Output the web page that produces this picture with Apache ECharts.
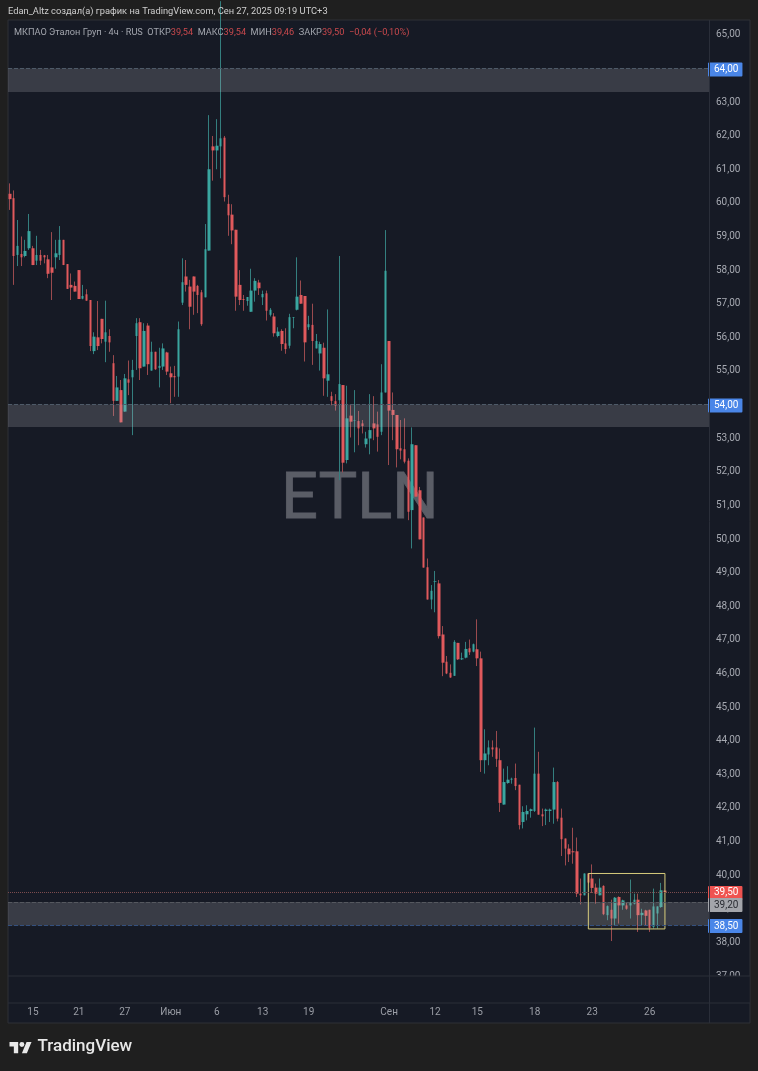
<!DOCTYPE html>
<html>
<head>
<meta charset="utf-8">
<title>ETLN</title>
<script src="https://cdn.jsdelivr.net/npm/echarts@6/dist/echarts.min.js"></script>
<style>
  html, body { margin: 0; padding: 0; background: #1f1f1f; }
  #chart { width: 758px; height: 1071px; filter: blur(0.35px); }
</style>
</head>
<body>
<div id="chart"></div>
<script>
// 4h candles
const opens = [
  60.27,60.14,58.45,58.48,58.42,58.65,58.65,58.28,58.45,58.44,
  58.32,58.08,58.38,58.45,58.90,58.18,57.56,57.53,58.00,57.15,
  57.28,57.11,55.59,56.00,56.55,55.87,56.04,55.23,54.11,54.43,
  53.79,54.75,54.81,56.04,56.45,55.13,56.35,55.01,55.57,55.09,
  55.13,55.55,54.93,54.85,54.83,57.03,57.81,57.51,57.81,57.53,
  57.34,57.19,58.58,61.68,61.56,61.68,61.94,59.97,59.65,59.20,
  57.56,57.14,57.08,56.76,57.39,57.63,57.19,57.31,56.67,56.62,
  56.04,56.19,55.82,55.75,56.58,56.82,57.26,57.23,56.30,56.37,
  55.67,55.52,55.69,54.71,54.25,54.10,54.13,54.58,52.35,53.67,
  53.52,53.51,53.44,52.82,52.99,53.44,53.41,53.19,54.36,55.89,
  53.84,53.69,52.70,52.67,52.33,50.86,52.79,51.45,50.64,49.16,
  48.20,48.73,48.68,47.16,46.35,46.02,45.93,46.91,46.42,46.47,
  46.75,46.65,46.72,46.45,43.42,43.59,43.80,43.80,43.42,42.10,
  42.74,42.84,42.89,42.69,41.58,41.81,41.91,41.91,43.02,41.81,
  41.91,41.91,41.95,42.77,41.71,41.09,40.79,40.71,40.71,39.45,
  39.40,40.05,39.90,39.63,39.40,39.68,38.81,38.97,38.71,39.35,
  39.10,39.10,39.10,39.15,39.27,38.81,38.95,38.97,38.46,38.86,
  39.05,39.54
];
const closes = [
  60.11,58.42,58.72,58.38,58.57,59.16,58.15,58.45,58.28,58.38,
  57.89,57.92,58.50,58.90,58.15,57.44,57.48,57.36,57.14,57.23,
  57.09,55.74,56.02,55.74,55.95,56.15,55.85,54.11,54.51,53.47,
  54.78,54.65,55.03,56.42,55.08,56.19,55.20,55.57,55.05,55.15,
  55.67,54.98,54.81,54.81,56.24,57.64,57.56,56.91,57.36,57.26,
  56.39,58.62,61.00,61.56,61.70,61.92,60.17,59.63,59.18,57.21,
  57.11,57.11,57.20,57.39,57.68,57.46,57.29,56.79,56.82,56.12,
  56.17,55.80,55.65,56.60,56.60,57.21,57.00,55.85,56.39,55.89,
  55.89,55.80,54.78,54.90,54.11,53.97,54.61,52.27,53.59,53.49,
  53.54,53.29,53.36,52.99,53.24,53.29,53.04,54.36,57.98,53.82,
  53.69,52.67,52.63,52.30,50.81,52.82,51.26,49.99,49.15,48.20,
  48.46,48.75,47.11,46.32,46.00,45.88,46.94,46.42,46.45,46.73,
  46.63,46.87,46.45,43.42,43.62,43.80,43.74,43.46,42.15,42.77,
  42.84,42.87,42.65,41.49,41.88,41.91,41.96,43.02,41.80,41.75,
  41.95,41.95,42.77,41.68,41.07,40.79,40.62,40.68,39.45,39.40,
  40.05,39.78,39.62,39.45,39.63,38.84,39.08,38.71,39.33,39.10,
  39.25,39.00,39.17,39.27,38.81,38.88,38.79,38.43,39.07,39.07,
  39.55,39.50
];
const lows = [
  59.79,57.56,58.12,58.12,58.38,58.60,58.15,58.15,58.15,58.20,
  57.76,57.11,58.04,58.30,58.15,57.44,57.11,57.36,57.14,57.13,
  57.09,55.59,55.50,55.62,55.82,55.26,55.57,53.66,54.11,53.47,
  53.79,54.28,53.09,55.03,54.73,55.13,54.88,55.01,55.03,54.51,
  55.03,54.88,54.04,54.23,54.23,56.96,57.36,56.24,56.67,56.72,
  56.34,57.19,58.58,60.66,61.00,60.73,60.04,59.02,58.77,56.79,
  56.96,56.79,56.94,56.76,57.06,57.26,56.96,56.50,56.62,56.02,
  56.00,55.60,55.51,55.67,56.27,56.80,57.00,55.28,56.22,55.18,
  55.67,55.01,54.26,54.23,53.98,53.82,51.75,51.98,52.25,53.02,
  52.58,52.79,53.14,52.72,52.52,52.94,52.60,53.09,54.36,52.20,
  52.94,52.13,52.37,52.25,50.56,49.72,51.26,49.99,49.15,48.20,
  47.91,47.82,47.04,45.92,45.98,45.87,45.93,46.40,46.40,46.45,
  46.55,46.63,46.22,43.07,43.02,43.27,43.52,43.22,41.88,42.10,
  42.72,42.72,42.53,41.36,41.39,41.63,41.71,41.88,41.80,41.46,
  41.49,41.58,41.53,41.60,40.57,40.29,40.39,40.34,39.35,39.13,
  39.40,39.75,39.47,39.15,39.40,38.81,38.66,38.04,38.51,38.56,
  38.97,38.97,38.71,39.13,38.31,38.51,38.51,38.31,38.41,38.41,
  39.03,39.46
];
const highs = [
  60.58,60.37,59.49,59.00,58.90,59.67,58.72,59.02,58.60,58.45,
  58.45,59.13,58.90,59.31,58.90,58.18,57.90,57.66,58.00,57.56,
  57.43,57.11,56.15,57.08,56.55,57.09,56.24,55.47,54.85,54.73,
  54.91,55.31,55.33,56.57,56.57,56.42,56.42,55.87,55.57,55.69,
  55.82,55.57,55.13,55.15,56.47,58.35,58.30,57.71,57.81,57.56,
  57.41,59.37,62.61,61.99,62.49,66.00,61.99,60.24,59.96,59.20,
  58.00,57.26,57.20,58.04,57.76,57.71,57.39,57.39,56.87,56.72,
  56.30,56.24,56.27,56.70,56.60,58.38,57.69,57.23,56.64,57.00,
  56.10,55.87,55.84,56.83,54.38,54.31,58.42,54.58,54.56,53.98,
  54.43,53.81,53.54,53.19,54.31,54.25,53.79,55.20,59.19,55.89,
  54.36,53.69,53.54,53.59,52.40,53.32,52.79,51.55,50.64,49.42,
  48.63,49.05,48.78,47.41,46.52,46.27,46.99,46.91,46.62,46.94,
  47.01,46.89,47.61,46.65,44.34,44.01,44.01,44.29,43.77,43.17,
  43.24,42.90,43.32,42.69,42.05,42.08,41.98,44.39,43.67,41.98,
  41.98,41.98,43.20,42.80,41.98,41.09,40.92,41.41,41.12,39.90,
  40.05,40.05,40.32,39.75,39.90,39.70,39.10,39.27,39.35,39.37,
  39.27,39.20,39.87,39.45,39.45,39.00,38.97,38.97,39.60,39.07,
  39.77,39.54
];

const emptySlots = 11;
const tickIndexes = [6, 18, 30, 42, 54, 66, 78, 99, 111, 122, 137, 152, 167];
const tickLabels = ['15', '21', '27', 'Июн', '6', '13', '19', 'Сен', '12', '15', '18', '23', '26'];

const zoneTops = [64, 54, 39.2];
const zoneBottoms = [63.3, 53.33, 38.5];
const yMin = 37;
const yMax = 65.44;
// yellow box: first and last candle, top and bottom price
const boxSlots = [151, 171];
const boxPrices = [40.05, 38.4];

const upColor = '#3aa6a0';
const downColor = '#e0595c';
const upWick = '#347f7f';
const downWick = '#9a4a4e';
const uiFont = 'Roboto, "Noto Sans", sans-serif';

const categories = [];
for (let i = 0; i < opens.length + emptySlots; i++) {
  const at = tickIndexes.indexOf(i);
  categories.push(at >= 0 ? tickLabels[at] : String(i));
}
const wickData = opens.map((o, i) => [o, closes[i], lows[i], highs[i]]);
const bodyData = opens.map((o, i) => [o, closes[i], Math.min(o, closes[i]), Math.max(o, closes[i])]);
const priceText = v => v.toFixed(2).replace('.', ',');

function priceLine(value, color, type, bg, textColor, dy) {
  return {
    yAxis: value,
    lineStyle: { color: color, type: type, width: 1 },
    label: {
      show: true,
      position: 'end',
      distance: 0,
      formatter: priceText(value),
      color: textColor,
      backgroundColor: bg,
      fontFamily: uiFont,
      fontSize: 10,
      padding: [2, 4, 2, 6],
      borderRadius: 1,
      offset: [-1, dy]
    }
  };
}

const chart = echarts.init(document.getElementById('chart'));
chart.setOption({
  animation: false,
  backgroundColor: '#1f1f1f',
  textStyle: { fontFamily: uiFont },
  grid: { left: 8, right: 49, top: 20, bottom: 95, containLabel: false },
  xAxis: {
    type: 'category',
    data: categories,
    axisLine: { show: false },
    axisTick: { show: false },
    splitLine: { show: false },
    axisLabel: {
      interval: i => tickIndexes.indexOf(i) >= 0,
      color: '#9b9ea6',
      fontSize: 10,
      margin: 31,
      hideOverlap: false
    }
  },
  yAxis: {
    type: 'value',
    position: 'right',
    min: yMin,
    max: yMax,
    interval: 1,
    axisLine: { show: false },
    axisTick: { show: false },
    splitLine: { show: false },
    axisLabel: {
      color: '#a6a9b1',
      fontSize: 10,
      margin: 7,
      showMinLabel: true,
      hideOverlap: false,
      formatter: v => Number.isInteger(v) ? priceText(v) : ''
    }
  },
  title: [
    {
      left: 8, top: 7, padding: 0,
      text: 'Edan_Altz создал(а) график на TradingView.com, Сен 27, 2025 09:19 UTC+3',
      textStyle: { color: '#cfcfcf', fontSize: 9.3, fontWeight: 'normal', fontFamily: uiFont }
    },
    {
      left: 14, top: 28, padding: 0, z: 20,
      text: '{g|МКПАО Эталон Груп · 4ч · RUS  ОТКР}{r|39,54}{g|  МАКС}{r|39,54}{g|  МИН}{r|39,46}{g|  ЗАКР}{r|39,50}{r|  −0,04 (−0,10%)}',
      textStyle: {
        fontSize: 9.2, fontWeight: 'normal', fontFamily: uiFont,
        rich: {
          g: { color: '#a3a6ae', fontSize: 9.2, fontFamily: uiFont },
          r: { color: '#c9494d', fontSize: 9.2, fontFamily: uiFont }
        }
      }
    }
  ],
  graphic: [
    { type: 'rect', z: -5, shape: { x: 8, y: 20, width: 742, height: 1003 }, style: { fill: '#161a25', stroke: '#2e3036', lineWidth: 1 } },
    { type: 'text', z: -4, x: 281, y: 469, style: { text: 'ETLN', fill: '#5a5d66', stroke: '#5a5d66', lineWidth: 0.8, font: '400 65px Roboto, sans-serif' } },
    // covers the lower half of the last price label, the pane clips it
    { type: 'rect', z: 50, shape: { x: 710, y: 976, width: 39.5, height: 27 }, style: { fill: '#161a25' } },
    { type: 'line', z: 51, shape: { x1: 8, y1: 976, x2: 750, y2: 976 }, style: { stroke: '#2a2e39', lineWidth: 1 } },
    { type: 'line', z: 51, shape: { x1: 8, y1: 1003, x2: 750, y2: 1003 }, style: { stroke: '#2a2e39', lineWidth: 1 } },
    { type: 'line', z: 51, shape: { x1: 709.5, y1: 20, x2: 709.5, y2: 1023 }, style: { stroke: '#2a2e39', lineWidth: 1 } },
    {
      type: 'group', x: 9.5, y: 1039.6, scaleX: 0.62, scaleY: 0.62,
      children: [
        { type: 'polygon', shape: { points: [[0, 4], [14, 4], [14, 22], [7, 22], [7, 11], [0, 11]] }, style: { fill: '#e8e8e8' } },
        { type: 'polygon', shape: { points: [[20, 22], [27.5, 4], [35.5, 4], [28, 22]] }, style: { fill: '#e8e8e8' } },
        { type: 'circle', shape: { cx: 20, cy: 8, r: 4 }, style: { fill: '#e8e8e8' } }
      ]
    },
    { type: 'text', z: 51, x: 37.5, y: 1038.5, style: { text: 'TradingView', fill: '#e8e8e8', font: '500 17px Roboto, sans-serif' } }
  ],
  series: [
    {
      name: 'wicks',
      type: 'candlestick',
      data: wickData,
      barWidth: 1,
      z: 2,
      itemStyle: { color: upWick, color0: downWick, borderColor: upWick, borderColor0: downWick, borderWidth: 1 }
    },
    {
      name: 'bodies',
      type: 'candlestick',
      data: bodyData,
      barWidth: 3,
      z: 3,
      itemStyle: { color: upColor, color0: downColor, borderColor: upColor, borderColor0: downColor, borderWidth: 0 }
    },
    {
      name: 'levels',
      type: 'line',
      data: [],
      symbol: 'none',
      z: 4,
      markArea: {
        silent: true,
        z: 4,
        itemStyle: { color: 'rgba(180,180,192,0.22)' },
        data: zoneTops.map((t, i) => [{ yAxis: t }, { yAxis: zoneBottoms[i] }])
      },
      markLine: {
        silent: true,
        z: 6,
        symbol: 'none',
        data: [
          priceLine(64, '#4e5a68', 'dashed', '#4a86e8', '#ffffff', 1),
          priceLine(54, '#4e5a68', 'dashed', '#4a86e8', '#ffffff', 1),
          priceLine(39.5, '#7c4c4e', 'dotted', '#ef5350', '#ffffff', 1),
          priceLine(39.2, '#55585f', 'dashed', '#a3a5ab', '#2a2c33', 3),
          priceLine(38.5, '#34507e', 'dashed', '#4a86e8', '#ffffff', 0.5)
        ]
      }
    },
    {
      name: 'box',
      type: 'line',
      data: [],
      symbol: 'none',
      z: 5,
      markArea: {
        silent: true,
        z: 5,
        itemStyle: { color: 'rgba(210,195,110,0.04)', borderColor: '#d8cd7c', borderWidth: 1 },
        data: [[
          { xAxis: boxSlots[0], yAxis: boxPrices[0] },
          { xAxis: boxSlots[1], yAxis: boxPrices[1] }
        ]]
      }
    }
  ]
});
</script>
</body>
</html>
